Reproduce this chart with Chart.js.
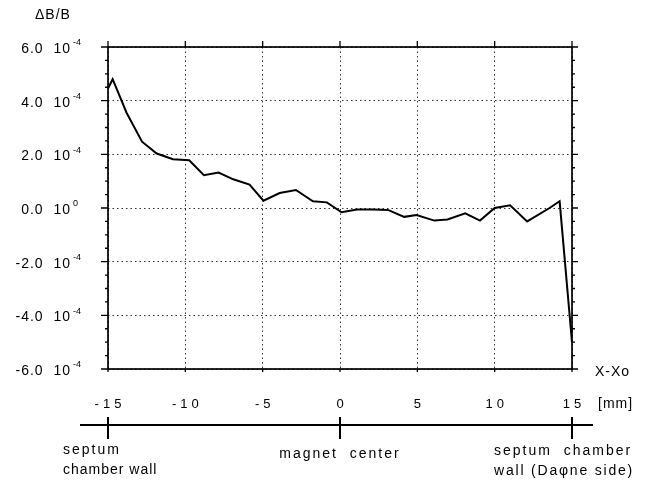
<!DOCTYPE html>
<html>
<head>
<meta charset="utf-8">
<script src="https://cdn.jsdelivr.net/npm/chart.js@4.4.1/dist/chart.umd.min.js"></script>
<style>
  body { margin: 0; background: #fff; }
  #wrap { width: 654px; height: 484px; }
</style>
</head>
<body>
<div id="wrap"><canvas id="chart" width="654" height="484"></canvas></div>
<script>
// 数据 (X-Xo 单位 mm, ΔB/B 单位 1e-4)
const xPos = [-15, -14.7, -13.8, -12.8, -11.85, -10.8, -9.75, -8.8, -7.85, -6.9, -5.85, -4.95, -3.9, -2.85,
    -1.75, -0.85, 0.1, 1.1, 2.1, 3.1, 4.15, 4.95, 6.1, 6.95, 8.1, 9.05, 10.0, 11.0, 12.1, 13.55, 14.2, 15];
const dBoverB = [4.45, 4.8, 3.55, 2.47, 2.03, 1.82, 1.78, 1.22, 1.32, 1.07, 0.87, 0.27, 0.56, 0.67,
    0.25, 0.21, -0.16, -0.06, -0.06, -0.07, -0.33, -0.26, -0.47, -0.43, -0.2, -0.47, 0.0, 0.1, -0.5, 0.0, 0.25, -5.0];

const yTickValues = [6, 4, 2, 0, -2, -4, -6];
const yTickLabels = ['6.0', '4.0', '2.0', '0.0', '-2.0', '-4.0', '-6.0'];
const yTickExp = ['-4', '-4', '-4', '0', '-4', '-4', '-4'];
const xTickValues = [-15, -10, -5, 0, 5, 10, 15];
const xTickLabels = ['-15', '-10', '-5', '0', '5', '10', '15'];

// 下方标注 (位置 mm)
const marks = [-15, 0, 15];

const FONT = '"Liberation Sans", Arial, sans-serif';

// 自定义绘制: 边框, 刻度, 标签, 下方标尺
const decor = {
    id: 'decor',
    afterDraw(chart) {
        const ctx = chart.ctx;
        const a = chart.chartArea;
        const xs = chart.scales.x;
        const ys = chart.scales.y;
        ctx.save();
        ctx.strokeStyle = '#000';
        ctx.fillStyle = '#000';

        // 边框
        ctx.lineWidth = 1.7;
        ctx.strokeRect(a.left, a.top, a.right - a.left, a.bottom - a.top);

        // 左右小刻度
        ctx.lineWidth = 1.3;
        for (let v = -6; v <= 6; v += 0.5) {
            const y = ys.getPixelForValue(v * 1e-4);
            const major = v % 2 === 0;
            ctx.beginPath();
            ctx.moveTo(a.left - (major ? 7 : 3), y);
            ctx.lineTo(a.left, y);
            ctx.moveTo(a.right, y);
            ctx.lineTo(a.right + (major ? 6 : 3), y);
            ctx.stroke();
        }
        // 上下刻度
        xTickValues.forEach(v => {
            const x = xs.getPixelForValue(v);
            ctx.beginPath();
            ctx.moveTo(x, a.top - 6);
            ctx.lineTo(x, a.top);
            ctx.moveTo(x, a.bottom);
            ctx.lineTo(x, a.bottom + 3);
            ctx.stroke();
        });

        // Y轴标签
        yTickValues.forEach((v, i) => {
            const y = ys.getPixelForValue(v * 1e-4) + 2;
            ctx.letterSpacing = '1px';
            ctx.font = '14px ' + FONT;
            ctx.textAlign = 'right';
            ctx.textBaseline = 'middle';
            ctx.fillText(yTickLabels[i] + '  10', 71, y);
            ctx.font = '9px ' + FONT;
            ctx.textAlign = 'left';
            ctx.letterSpacing = '0px';
            ctx.fillText(yTickExp[i], 73, y - 6);
        });

        // X轴标签
        ctx.font = '13px ' + FONT;
        ctx.letterSpacing = '4px';
        ctx.textAlign = 'center';
        ctx.textBaseline = 'middle';
        xTickValues.forEach((v, i) => {
            ctx.fillText(xTickLabels[i], xs.getPixelForValue(v) + 2, 404);
        });
        ctx.letterSpacing = '1px';
        ctx.font = '14px ' + FONT;
        ctx.textAlign = 'left';
        ctx.fillText('[mm]', 598, 404);
        ctx.fillText('X-Xo', 595, 372);
        ctx.font = '14px ' + FONT;
        ctx.fillText('ΔB/B', 35, 15);

        // 下方标尺
        ctx.lineWidth = 2;
        ctx.beginPath();
        ctx.moveTo(80, 425);
        ctx.lineTo(593, 425);
        ctx.stroke();
        marks.forEach(v => {
            const x = xs.getPixelForValue(v);
            ctx.beginPath();
            ctx.moveTo(x, 417);
            ctx.lineTo(x, 439);
            ctx.stroke();
        });

        ctx.font = '14px ' + FONT;
        ctx.letterSpacing = '2px';
        ctx.textAlign = 'left';
        ctx.fillText('septum', 63, 450);
        ctx.letterSpacing = '1px';
        ctx.fillText('chamber wall', 63, 470);
        ctx.letterSpacing = '2px';
        ctx.textAlign = 'center';
        ctx.fillText('magnet  center', xs.getPixelForValue(0), 454);
        ctx.textAlign = 'left';
        ctx.fillText('septum  chamber', 494, 451);
        ctx.letterSpacing = '1.8px';
        ctx.fillText('wall (Daφne side)', 494, 471);
        ctx.restore();
    }
};

new Chart(document.getElementById('chart'), {
    type: 'scatter',
    data: {
        datasets: [{
            data: xPos.map((x, i) => ({ x: x, y: dBoverB[i] * 1e-4 })),
            showLine: true,
            borderColor: '#000',
            borderWidth: 2,
            pointRadius: 0,
            tension: 0
        }]
    },
    options: {
        responsive: false,
        animation: false,
        devicePixelRatio: 1,
        layout: { padding: { left: 108, top: 47, right: 82, bottom: 115 } },
        plugins: { legend: { display: false }, tooltip: { enabled: false } },
        scales: {
            x: {
                type: 'linear',
                min: -15,
                max: 15,
                ticks: { stepSize: 5, display: false },
                grid: { color: '#333', lineWidth: 1, drawTicks: false },
                border: { display: false, dash: [1.5, 3] }
            },
            y: {
                min: -6e-4,
                max: 6e-4,
                ticks: { stepSize: 2e-4, display: false },
                grid: { color: '#333', lineWidth: 1, drawTicks: false },
                border: { display: false, dash: [1.5, 3] }
            }
        }
    },
    plugins: [decor]
});
</script>
</body>
</html>
